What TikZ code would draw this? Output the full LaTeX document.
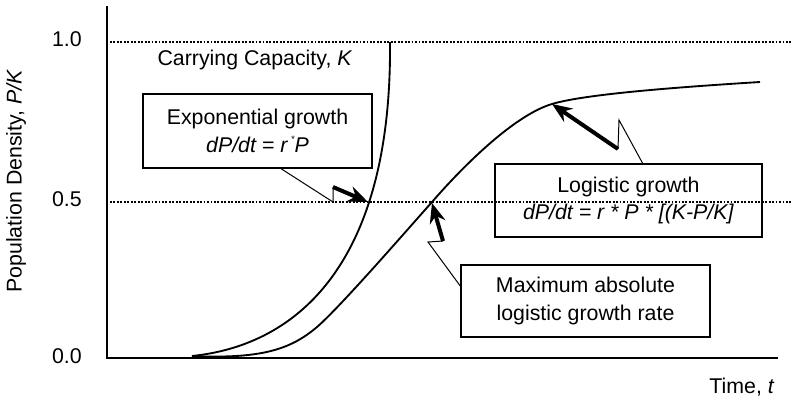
\documentclass[tikz,border=0pt]{standalone}
\usepackage{fontspec}
\setmainfont{Liberation Sans}
\usetikzlibrary{arrows.meta}
\begin{document}
\begin{tikzpicture}[x=0.75pt,y=-0.75pt,
  every node/.style={font=\fontsize{16}{20.5}\selectfont, inner sep=0pt},
  axisline/.style={line width=1.2pt},
  dotline/.style={line width=2.2pt, dash pattern=on 1.4pt off 1.2pt},
  curve/.style={line width=1.4pt, line join=round},
  box/.style={draw, line width=1.3pt, align=center},
  callout/.style={line width=0.75pt},
  bigarrow/.style={line width=3pt, -{Stealth[length=15pt,width=12pt,inset=5pt]}}
]
\useasboundingbox (0,0) rectangle (793,401);

% axes
\coordinate (ytop) at (107,6);
\coordinate (orig) at (107,358);
\coordinate (xend) at (778,358);
\draw[axisline] (ytop) -- (orig) -- (xend);

% dotted reference lines
\coordinate (k1a) at (110,42);
\coordinate (k1b) at (793,42);
\coordinate (k5a) at (110,202);
\coordinate (k5b) at (793,202);
\draw[dotline] (k1a) -- (k1b);
\draw[dotline] (k5a) -- (k5b);

% tick labels
\node[anchor=east] (t10) at (82,39) {1.0};
\node[anchor=east] (t05) at (82,199) {0.5};
\node[anchor=east] (t00) at (82,356) {0.0};

% axis titles
\node[rotate=90] (ylab) at (16,181) {Population Density, \textit{P/K}};
\node[anchor=base] (xlab) at (742,393) {Time, \textit{t}};
\node[anchor=base] (cap) at (255,65) {Carrying Capacity, \textit{K}};

% curves
\draw[curve] (192,356) .. controls (300,345) and (392,260) .. (390,42);
\draw[curve] (192,356) .. controls (260,359) and (290,350) .. (317,327)
  .. controls (340,307) and (400,238) .. (432,202)
  .. controls (465,164) and (515,115) .. (552,104)
  .. controls (585,94) and (680,87) .. (760,82);

% boxes
\node[box, minimum width=171.75pt, minimum height=55.5pt] (expbox) at (257.5,131)
  {Exponential growth\\ \textit{dP/dt = r\,\raisebox{0.9ex}{\fontsize{7}{7}\selectfont *}P}};
\node[box, minimum width=200.25pt, minimum height=54.75pt] (logbox) at (628.5,200.5)
  {Logistic growth\\ \textit{dP/dt = r * P * [(K-P/K]}};
\node[box, minimum width=186.75pt, minimum height=54pt] (maxbox) at (585.5,301)
  {Maximum absolute\\ logistic growth rate};

% callouts
\coordinate (e1) at (280,168);
\coordinate (e2) at (333,202);
\coordinate (e3) at (333,187);
\coordinate (etip) at (368,202);
\draw[callout] (e1) -- (e2) -- (e3);
\draw[bigarrow] (e3) -- (etip);

\coordinate (m1) at (461,287);
\coordinate (m2) at (428,242);
\coordinate (m3) at (443,241);
\coordinate (mtip) at (432,203);
\draw[callout] (m1) -- (m2) -- (m3);
\draw[bigarrow] (m3) -- (mtip);

\coordinate (l1) at (643,164);
\coordinate (l2) at (619,120);
\coordinate (l3) at (618,149);
\coordinate (ltip) at (552,104);
\draw[callout] (l1) -- (l2) -- (l3);
\draw[bigarrow] (l3) -- (ltip);
\end{tikzpicture}
\end{document}
